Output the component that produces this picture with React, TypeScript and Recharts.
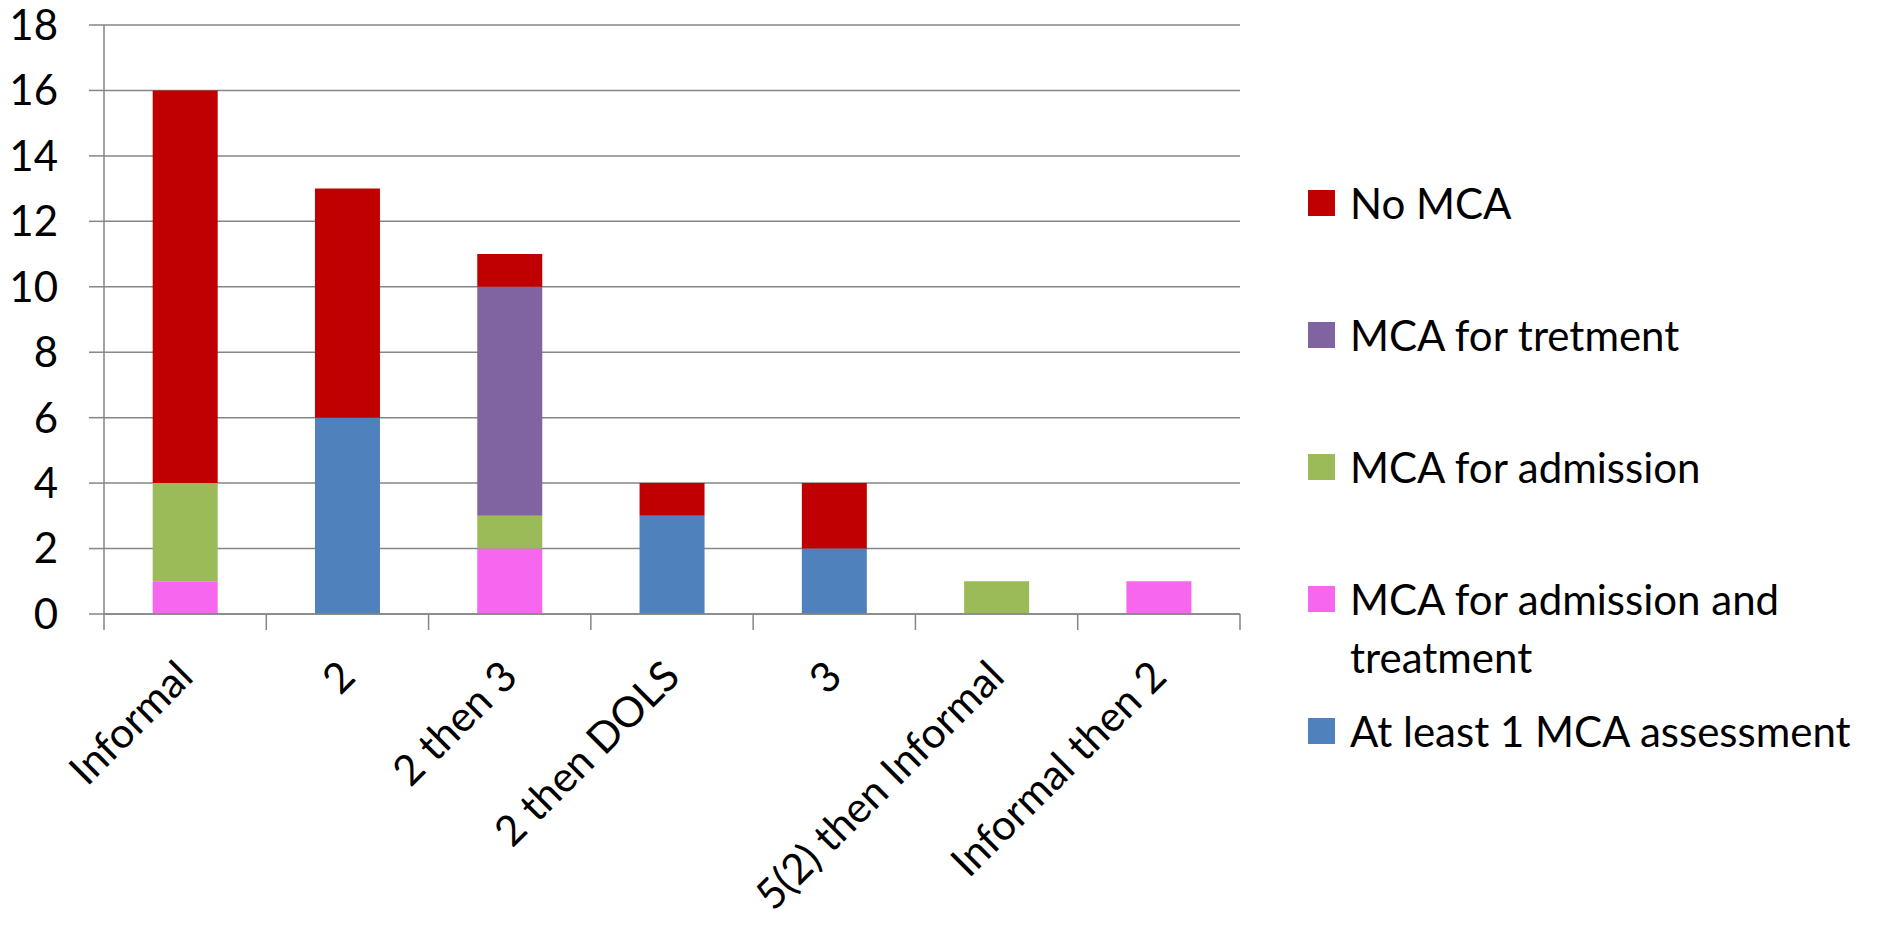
import React from 'react';
import { BarChart, Bar, XAxis, YAxis, CartesianGrid, Legend } from 'recharts';

const categories = ['Informal', '2', '2 then 3', '2 then DOLS', '3', '5(2) then Informal', 'Informal then 2'];
const atLeastOne = [0, 6, 0, 3, 2, 0, 0];
const admissionAndTreatment = [1, 0, 2, 0, 0, 0, 1];
const admission = [3, 0, 1, 0, 0, 1, 0];
const treatment = [0, 0, 7, 0, 0, 0, 0];
const noMca = [12, 7, 1, 1, 2, 0, 0];
const yTicks = [0, 2, 4, 6, 8, 10, 12, 14, 16, 18];

const seriesKeys = ['atLeastOne', 'admissionAndTreatment', 'admission', 'treatment', 'noMca'];
const seriesNames = ['At least 1 MCA assessment', 'MCA for admission and\ntreatment', 'MCA for admission', 'MCA for tretment', 'No MCA'];
const seriesColors = ['#4F81BD', '#F766EE', '#9BBB59', '#8064A2', '#C00000'];
const seriesValues = [atLeastOne, admissionAndTreatment, admission, treatment, noMca];

const data = categories.map((c, i) => {
  const row: any = { name: c };
  seriesKeys.forEach((k, s) => {
    row[k] = seriesValues[s][i];
  });
  return row;
});

const W = 1861;
const H = 912;
const PLOT_LEFT = 96;
const PLOT_TOP = 17;
const PLOT_RIGHT = 1232;
const PLOT_BOTTOM = 606;
const LEGEND_LEFT = 1300;
const LEGEND_W = 561;
const BAND = (PLOT_RIGHT - PLOT_LEFT) / categories.length;
const GREY = '#868686';
const FONT = 'Lato, "Open Sans", sans-serif';
const FS = 42;

const XTick = (props: any) => {
  const { x, payload, index } = props;
  const last = index === categories.length - 1;
  return (
    <g>
      <line x1={x - BAND / 2} y1={PLOT_BOTTOM} x2={x - BAND / 2} y2={PLOT_BOTTOM + 16} stroke={GREY} strokeWidth={1.5} />
      {last && (
        <line x1={x + BAND / 2} y1={PLOT_BOTTOM} x2={x + BAND / 2} y2={PLOT_BOTTOM + 16} stroke={GREY} strokeWidth={1.5} />
      )}
      <text
        transform={`translate(${x + 10},${PLOT_BOTTOM + 65}) rotate(-45)`}
        textAnchor="end"
        fontSize={FS}
        fontFamily={FONT}
        fill="#000"
      >
        {payload.value}
      </text>
    </g>
  );
};

const LegendContent = () => {
  const order = seriesKeys.map((_, i) => i).reverse();
  return (
    <div style={{ position: 'relative', width: LEGEND_W, height: H, fontFamily: FONT, fontSize: FS, color: '#000' }}>
      {order.map((s, i) => {
        const cy = 195 + i * 132;
        return (
          <div key={s}>
            <div style={{ position: 'absolute', left: 0, top: cy - 13, width: 27, height: 26, background: seriesColors[s] }} />
            <div
              style={{
                position: 'absolute',
                left: 42,
                top: cy - 29,
                lineHeight: '58px',
                whiteSpace: 'pre',
              }}
            >
              {seriesNames[s]}
            </div>
          </div>
        );
      })}
    </div>
  );
};

export default function App() {
  return (
    <div style={{ width: W, height: H, fontFamily: FONT }}>
      <BarChart
        width={W}
        height={H}
        data={data}
        barCategoryGap="30%"
        margin={{ top: PLOT_TOP, left: 0, right: W - PLOT_RIGHT - LEGEND_W, bottom: 6 }}
      >
        <CartesianGrid vertical={false} stroke={GREY} strokeWidth={1.5} />
        <XAxis
          dataKey="name"
          interval={0}
          height={H - PLOT_BOTTOM - 6}
          tickSize={0}
          tickMargin={0}
          tickLine={false}
          axisLine={{ stroke: GREY, strokeWidth: 1.5 }}
          tick={<XTick />}
        />
        <YAxis
          width={PLOT_LEFT}
          domain={[0, 18]}
          ticks={yTicks}
          interval={0}
          tickSize={15}
          tickMargin={31}
          axisLine={{ stroke: GREY, strokeWidth: 1.5 }}
          tickLine={{ stroke: GREY, strokeWidth: 1.5 }}
          tick={{ fill: '#000', fontSize: FS, fontFamily: FONT }}
        />
        <Legend
          layout="vertical"
          align="right"
          verticalAlign="middle"
          content={<LegendContent />}
          wrapperStyle={{ left: LEGEND_LEFT, top: 0, width: LEGEND_W, height: H, right: 'auto' }}
        />
        {seriesKeys.map((k, s) => (
          <Bar
            key={k}
            dataKey={k}
            name={seriesNames[s]}
            stackId="a"
            fill={seriesColors[s]}
            isAnimationActive={false}
          />
        ))}
      </BarChart>
    </div>
  );
}
